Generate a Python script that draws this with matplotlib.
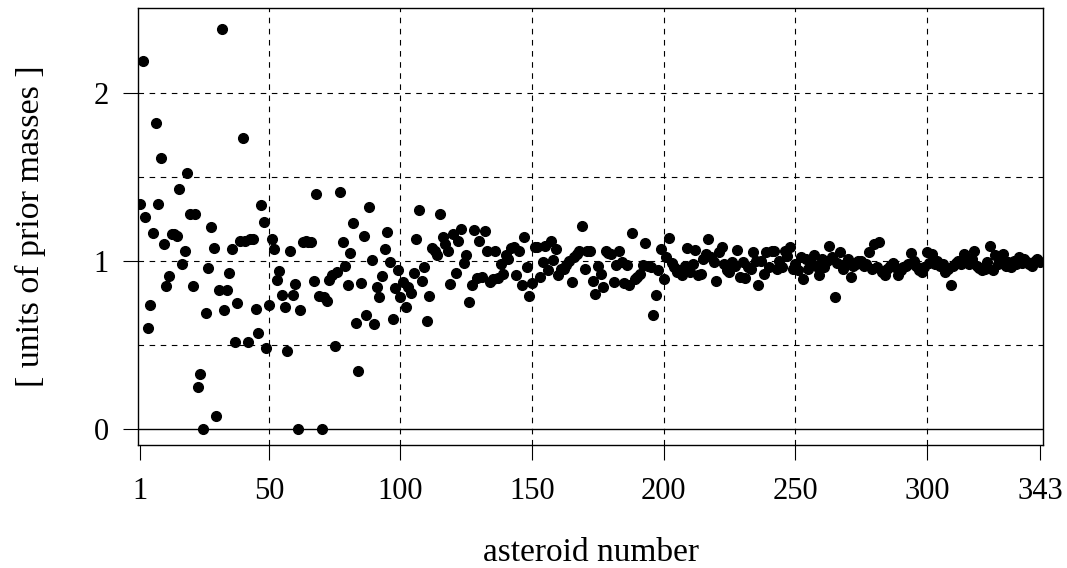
import numpy as np
import matplotlib
matplotlib.use("Agg")
import matplotlib.pyplot as plt

# estimated masses, in units of the prior mass, asteroid 1..343
mass_a = [1.34, 2.19, 1.26, 0.60, 0.74, 1.165, 1.82, 1.34, 1.61, 1.10,
          0.85, 0.91, 1.16, 1.16, 1.15, 1.43, 0.98, 1.06, 1.52, 1.28,
          0.85, 1.28, 0.25, 0.33, 0.0, 0.69, 0.96, 1.20, 1.08, 0.077,
          0.83, 2.38, 0.71, 0.83, 0.93, 1.07, 0.52, 0.75, 1.12, 1.73]
mass_b = [1.12, 0.52, 1.13, 1.13, 0.715, 0.57, 1.335, 1.23, 0.485, 0.74,
          1.13, 1.07, 0.89, 0.94, 0.80, 0.725, 0.465, 1.06, 0.80, 0.865,
          0.0, 0.71, 1.115, 1.12, 1.11, 1.115, 0.88, 1.40, 0.795, 0.0,
          0.785, 0.76, 0.885, 0.915, 0.495, 0.935, 1.41, 1.11, 0.97, 0.855]
mass_c = [1.05, 1.225, 0.633, 0.344, 0.87, 1.15, 0.682, 1.32, 1.007, 0.627,
          0.845, 0.785, 0.91, 1.07, 1.17, 0.995, 0.657, 0.84, 0.944, 0.785,
          0.873, 0.726, 0.845, 0.81, 0.93, 1.13, 1.30, 0.884, 0.963, 0.643,
          0.793, 1.078, 1.062, 1.034, 1.28, 1.145, 1.10, 1.058, 0.865, 1.16,
          0.93, 1.12, 1.19, 0.99]
mass_d = [1.033, 0.755, 0.859, 1.187, 0.90, 1.12, 0.904, 1.18, 1.062, 0.874,
          0.894, 1.058, 0.90, 0.983, 0.924, 1.033, 1.013, 1.078, 1.082, 0.914,
          1.062, 0.855, 1.14, 0.967, 0.795, 0.868, 1.082, 1.086, 0.904, 0.993,
          1.092, 0.948, 1.118, 1.007, 1.072, 0.914]
mass_e = [0.95, 0.954, 0.979, 1.003, 0.874, 1.022, 1.04, 1.062, 1.21, 0.954,
          1.062, 1.062, 0.88, 0.805, 0.973, 0.92, 0.845, 1.062, 1.05, 1.042,
          0.874, 0.979, 1.058, 0.993, 0.868, 0.979, 0.855, 1.167, 0.894, 0.904,
          0.924, 0.979, 1.108, 0.97, 0.963, 0.68, 0.80, 0.948, 1.074, 0.894,
          1.022, 1.138]
mass_f = [0.99, 0.963, 0.935, 0.944, 0.914, 0.973, 1.078, 0.935, 0.983, 1.066,
          0.914, 0.92, 1.013, 1.042, 1.128, 1.022, 0.993, 0.884, 1.052, 1.082,
          0.983, 0.944, 0.935, 0.993, 0.973, 1.068, 0.904, 0.993, 0.90, 0.963,
          0.954, 1.052, 1.003, 0.859, 1.003, 0.92, 1.052, 0.963, 1.062]
mass_g = [1.062, 0.954, 1.003, 0.963, 1.058, 1.03, 1.086, 0.954, 0.98, 0.944,
          1.022, 0.894, 1.013, 0.954, 0.99, 1.033, 0.97, 0.914, 1.013, 0.963,
          1.003, 1.092, 1.022, 0.785, 0.99, 1.052, 0.954, 0.983, 1.01, 0.904,
          0.97, 0.983, 1.0, 1.003, 0.97, 0.983, 1.052, 0.954, 1.10, 0.963]
mass_h = [1.112, 0.935, 0.914, 0.954, 0.973, 0.99, 0.963, 0.914, 0.944, 0.963,
          0.97, 0.983, 1.048, 1.0, 0.973, 0.944, 0.935, 0.963, 1.052, 0.99,
          1.042, 0.98, 1.003, 0.97, 0.983, 0.935, 0.954, 0.855, 0.973, 0.99,
          1.003, 0.98, 1.042, 0.993, 0.98, 1.01, 1.062, 0.973, 0.96, 0.944]
mass_i = [0.954, 0.993, 1.092, 0.944, 1.033, 0.98, 1.0, 1.042, 0.97, 0.993,
          0.963, 1.0, 0.98, 1.022, 0.99, 1.01, 0.993, 0.98, 0.973, 1.0,
          1.013, 0.993]

mass = mass_a + mass_b + mass_c + mass_d + mass_e + mass_f + mass_g + mass_h + mass_i
asteroid = np.arange(1, len(mass) + 1)

x_ticks = [1, 50, 100, 150, 200, 250, 300, 343]
x_grid = [50, 100, 150, 200, 250, 300]
y_ticks = [0, 1, 2]
y_grid = [0.5, 1, 1.5, 2]

plt.rcParams['font.family'] = ['Liberation Serif', 'DejaVu Serif']

fig = plt.figure(figsize=(10.67, 5.68), dpi=100)
ax = fig.add_axes([0.1293, 0.2165, 0.8482, 0.7689])

for g in x_grid:
    ax.axvline(g, color='black', lw=0.8, ls=(0, (5, 5)), zorder=1)
for g in y_grid:
    ax.axhline(g, color='black', lw=0.8, ls=(0, (5, 5)), zorder=1)
ax.axhline(0, color='black', lw=1.0, zorder=1)

ax.plot(asteroid, mass, 'o', color='black', markersize=7, zorder=3)

ax.set_xlim(0.24, 344.14)
ax.set_ylim(-0.093, 2.501)
ax.set_xticks(x_ticks)
ax.set_yticks(y_ticks)
ax.tick_params(direction='out', length=11, width=0.8, labelsize=22)
ax.tick_params(axis='x', pad=12)
ax.tick_params(axis='y', pad=10)
for sp in ax.spines.values():
    sp.set_linewidth(1.0)

fig.text(0.5535, 0.0123, 'asteroid number', fontsize=24, ha='center', va='baseline')
fig.text(0.0281, 0.601, '[ units of prior masses ]', fontsize=24.5,
         rotation=90, ha='center', va='center')

fig.savefig('out.png', dpi=100)
